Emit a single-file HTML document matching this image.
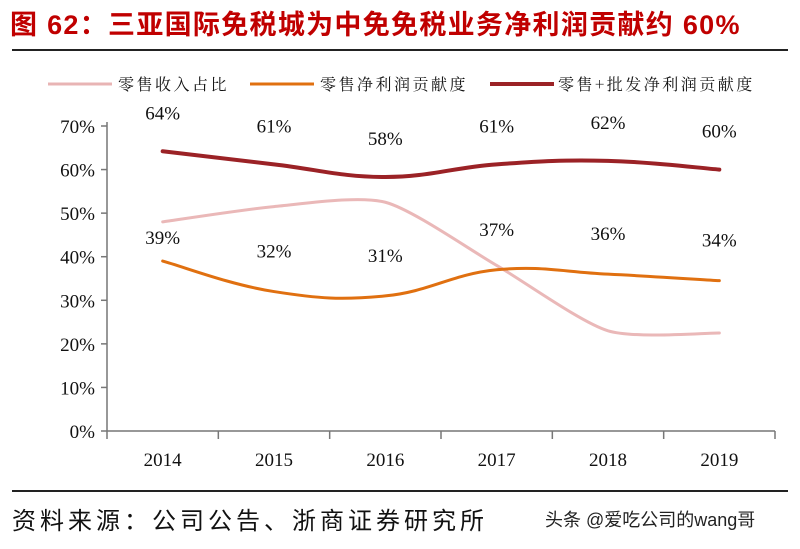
<!DOCTYPE html>
<html><head><meta charset="utf-8"><style>
body{margin:0;background:#fff;width:800px;height:544px;overflow:hidden;font-family:"Liberation Serif","Noto Serif CJK SC",serif}
</style></head><body>
<svg width="800" height="544" viewBox="0 0 800 544" id="svg">
<text x="10" y="34" font-family="Liberation Sans, Noto Sans CJK SC, sans-serif" font-weight="bold" font-size="27" letter-spacing="1.3" fill="#c00000">图  62：三亚国际免税城为中免免税业务净利润贡献约 60%</text>
<line x1="12" y1="50" x2="788" y2="50" stroke="#222" stroke-width="2"/>
<g font-family="Noto Serif CJK SC, serif" font-size="16" fill="#111" letter-spacing="2.5">
<g><line x1="48" y1="84" x2="112" y2="84" stroke="#e8b4b4" stroke-width="3"/><text x="118" y="90">零售收入占比</text></g>
<g><line x1="250" y1="84" x2="314" y2="84" stroke="#e07010" stroke-width="3"/><text x="320" y="90">零售净利润贡献度</text></g>
<g><line x1="490" y1="84" x2="554" y2="84" stroke="#9b2226" stroke-width="4"/><text x="558" y="90">零售+批发净利润贡献度</text></g>
</g>
<g id="plot"></g>
<line x1="12" y1="491" x2="788" y2="491" stroke="#222" stroke-width="2"/>
<text x="12" y="529" font-family="Noto Sans CJK SC, sans-serif" font-size="24" letter-spacing="4" fill="#111">资料来源：公司公告、浙商证券研究所</text>
<text x="545" y="526" font-family="Liberation Sans, Noto Sans CJK SC, sans-serif" font-size="18" fill="#222">头条 @爱吃公司的wang哥</text>
</svg>
<script>
const categories=['2014','2015','2016','2017','2018','2019'];
const retailRevenue=[48,51.5,52.5,38,23,22.5];
const retailProfit=[39,32,31,37,36,34.5];
const totalProfit=[64.2,61.2,58.3,61.2,62,60];
const retailProfitLabels=['39%','32%','31%','37%','36%','34%'];
const totalProfitLabels=['64%','61%','58%','61%','62%','60%'];
const yTicks=[0,10,20,30,40,50,60,70];
const NS='http://www.w3.org/2000/svg';
const X0=107,X1=775,Y0=431,Y70=126;
const band=(X1-X0)/categories.length;
const x=i=>X0+band*(i+0.5);
const y=v=>Y0-(Y0-Y70)*v/70;
const plot=document.getElementById('plot');
function mk(t,a){const e=document.createElementNS(NS,t);for(const k in a)e.setAttribute(k,a[k]);plot.appendChild(e);return e;}
let e=mk('line',{x1:X0,y1:Y70-4,x2:X0,y2:Y0,stroke:'#777','stroke-width':1.5});


e=mk('line',{x1:X0,y1:Y0,x2:X1,y2:Y0,stroke:'#777','stroke-width':1.5});


yTicks.forEach(t=>{
 mk('line',{x1:X0-6,y1:y(t),x2:X0,y2:y(t),stroke:'#777','stroke-width':1.5});
 const tx=mk('text',{x:X0-12,y:y(t)+7,'text-anchor':'end','font-size':19,fill:'#111'});
 tx.textContent=t+'%';
 
 
});
for(let i=0;i<=categories.length;i++)mk('line',{x1:X0+band*i,y1:Y0,x2:X0+band*i,y2:Y0+8,stroke:'#777','stroke-width':1.5});
categories.forEach((c,i)=>{
 const tx=mk('text',{x:x(i),y:466,'text-anchor':'middle','font-size':19,fill:'#111'});
 tx.textContent=c;
 
 
});
function path(vals,t){
 const p=vals.map((v,i)=>[x(i),y(v)]);let d='M'+p[0][0]+','+p[0][1];
 for(let i=0;i<p.length-1;i++){const a=p[Math.max(i-1,0)],b=p[i],c=p[i+1],n=p[Math.min(i+2,p.length-1)];
  d+=` C${b[0]+(c[0]-a[0])*t},${b[1]+(c[1]-a[1])*t} ${c[0]-(n[0]-b[0])*t},${c[1]-(n[1]-b[1])*t} ${c[0]},${c[1]}`;}
 return d;
}
function series(vals,color,w,name,t){
 const p=mk('path',{d:path(vals,t),fill:'none',stroke:color,'stroke-width':w,'stroke-linecap':'round'});
 
 
}
series(retailRevenue,'#eab8b8',3,'line-retail-revenue',0.12);
series(retailProfit,'#e07010',3,'line-retail-profit',0.2);
series(totalProfit,'#9b2226',4,'line-total-profit',0.2);
function labels(vals,lbls,off,name){
 vals.forEach((v,i)=>{const o=(name==='label-retail-profit'&&i===0)?-17:off;
  const tx=mk('text',{x:x(i),y:y(v)+o,'text-anchor':'middle','font-size':19,fill:'#111'});
  tx.textContent=lbls[i];
  
  });
}
labels(totalProfit,totalProfitLabels,-32,'label-total-profit');
labels(retailProfit,retailProfitLabels,-34,'label-retail-profit');
</script>
</body></html>
